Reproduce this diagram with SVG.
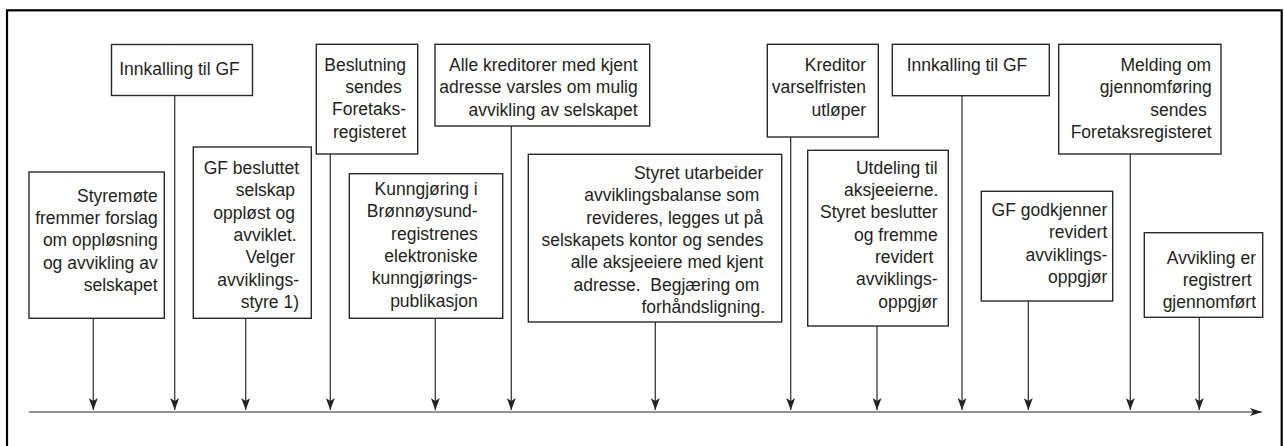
<svg xmlns="http://www.w3.org/2000/svg" width="1284" height="446" viewBox="0 0 1284 446">
<style>
.box{fill:#fff;stroke:#2a2a2a;stroke-width:1.4}
.t{font-family:"Liberation Sans",Arial,sans-serif;font-size:17.5px;fill:#231f20;text-anchor:end}
.c{text-anchor:middle}
.con{stroke:#3a3a3a;stroke-width:1.3;fill:none;marker-end:url(#ah)}
.axis{stroke:#6e6e6e;stroke-width:1.6;fill:none;marker-end:url(#ah2)}
</style>
<defs>
<marker id="ah" markerUnits="userSpaceOnUse" viewBox="0 0 12 9" refX="12" refY="4.5" markerWidth="12" markerHeight="9" orient="auto">
<path d="M0,0 L12,4.5 L0,9 L3,4.5 Z" fill="#222"/>
</marker>
<marker id="ah2" markerUnits="userSpaceOnUse" viewBox="0 0 12 8" refX="12" refY="4" markerWidth="12" markerHeight="8" orient="auto">
<path d="M0,0 L12,4 L0,8 L3,4 Z" fill="#222"/>
</marker>
</defs>
<rect x="7" y="10.3" width="1274.7" height="445" fill="#fff" stroke="#000" stroke-width="2.2"/>
<g id="connectors">
<line class="axis" x1="29" y1="412" x2="1262" y2="412"/>
<line class="con" x1="93.3" y1="318.3" x2="93.3" y2="410"/>
<line class="con" x1="174.7" y1="95.5" x2="174.7" y2="410"/>
<line class="con" x1="245.7" y1="318.3" x2="245.7" y2="410"/>
<line class="con" x1="330.3" y1="154" x2="330.3" y2="410"/>
<line class="con" x1="435.3" y1="318.3" x2="435.3" y2="410"/>
<line class="con" x1="511.3" y1="126" x2="511.3" y2="410"/>
<line class="con" x1="655.3" y1="322" x2="655.3" y2="410"/>
<line class="con" x1="790.7" y1="137" x2="790.7" y2="410"/>
<line class="con" x1="877" y1="326" x2="877" y2="410"/>
<line class="con" x1="962" y1="95.7" x2="962" y2="410"/>
<line class="con" x1="1028.3" y1="301" x2="1028.3" y2="410"/>
<line class="con" x1="1130.3" y1="154" x2="1130.3" y2="410"/>
<line class="con" x1="1199.3" y1="317.3" x2="1199.3" y2="410"/>
</g>
<g id="n1">
<rect class="box" x="29" y="172" width="135.3" height="146.3"/>
<text class="t" x="157.7" y="201.7">Styremøte</text>
<text class="t" x="157.7" y="224">fremmer forslag</text>
<text class="t" x="157.7" y="246.3">om oppløsning</text>
<text class="t" x="157.7" y="268.6">og avvikling av</text>
<text class="t" x="157.7" y="291">selskapet</text>
</g>
<g id="n2">
<rect class="box" x="111.5" y="44.5" width="141" height="51"/>
<text class="t c" x="179.5" y="74.5">Innkalling til GF</text>
</g>
<g id="n3">
<rect class="box" x="193.3" y="147" width="118" height="171.3"/>
<text class="t" x="299" y="174">GF besluttet</text>
<text class="t" x="295" y="196.3">selskap</text>
<text class="t" x="295" y="218.6">oppløst og</text>
<text class="t" x="296.7" y="241">avviklet.</text>
<text class="t" x="295" y="263.3">Velger</text>
<text class="t" x="299" y="285.6">avviklings-</text>
<text class="t" x="299" y="308">styre 1)</text>
</g>
<g id="n4">
<rect class="box" x="316.3" y="44.3" width="101.4" height="109.7"/>
<text class="t" x="406" y="70.7">Beslutning</text>
<text class="t" x="401.7" y="93">sendes</text>
<text class="t" x="406" y="115.3">Foretaks-</text>
<text class="t" x="406" y="137.6">registeret</text>
</g>
<g id="n5">
<rect class="box" x="349.3" y="173.7" width="153.4" height="144.6"/>
<text class="t" x="477.7" y="195">Kunngjøring i</text>
<text class="t" x="477.7" y="217.3">Brønnøysund-</text>
<text class="t" x="477.7" y="239.6">registrenes</text>
<text class="t" x="477.7" y="262">elektroniske</text>
<text class="t" x="477.7" y="284.3">kunngjørings-</text>
<text class="t" x="477.7" y="306.6">publikasjon</text>
</g>
<g id="n6">
<rect class="box" x="435" y="44.3" width="214.7" height="81.7"/>
<text class="t" x="637.7" y="71">Alle kreditorer med kjent</text>
<text class="t" x="637.7" y="93.3">adresse varsles om mulig</text>
<text class="t" x="637.7" y="115.6">avvikling av selskapet</text>
</g>
<g id="n7">
<rect class="box" x="528.3" y="154.3" width="253.4" height="167.7"/>
<text class="t" x="763.3" y="179">Styret utarbeider</text>
<text class="t" x="759.3" y="201.3">avviklingsbalanse som</text>
<text class="t" x="763.3" y="223.6">revideres, legges ut på</text>
<text class="t" x="763.3" y="246">selskapets kontor og sendes</text>
<text class="t" x="763.3" y="268.3">alle aksjeeiere med kjent</text>
<text class="t" x="759.3" y="290.6" xml:space="preserve">adresse.  Begjæring om</text>
<text class="t" x="765" y="313">forhåndsligning.</text>
</g>
<g id="n8">
<rect class="box" x="767.3" y="44.3" width="111" height="92.7"/>
<text class="t" x="866" y="71">Kreditor</text>
<text class="t" x="866" y="93.3">varselfristen</text>
<text class="t" x="866" y="115.6">utløper</text>
</g>
<g id="n9">
<rect class="box" x="807.7" y="150.3" width="140.6" height="175.7"/>
<text class="t" x="937.7" y="173.7">Utdeling til</text>
<text class="t" x="938.3" y="196">aksjeeierne.</text>
<text class="t" x="937.7" y="218.3">Styret beslutter</text>
<text class="t" x="937.7" y="240.6">og fremme</text>
<text class="t" x="933.3" y="263">revidert</text>
<text class="t" x="937.7" y="285.3">avviklings-</text>
<text class="t" x="937.7" y="307.6">oppgjør</text>
</g>
<g id="n10">
<rect class="box" x="892.3" y="44.3" width="157" height="51.4"/>
<text class="t c" x="967" y="71">Innkalling til GF</text>
</g>
<g id="n11">
<rect class="box" x="981.3" y="191.3" width="131.4" height="109.7"/>
<text class="t" x="1107.3" y="216">GF godkjenner</text>
<text class="t" x="1107.3" y="238.3">revidert</text>
<text class="t" x="1107.3" y="260.6">avviklings-</text>
<text class="t" x="1107.3" y="283">oppgjør</text>
</g>
<g id="n12">
<rect class="box" x="1058.7" y="44.3" width="162.3" height="109.7"/>
<text class="t" x="1211" y="71">Melding om</text>
<text class="t" x="1211.7" y="93.3">gjennomføring</text>
<text class="t" x="1206.7" y="115.6">sendes</text>
<text class="t" x="1211.7" y="138">Foretaksregisteret</text>
</g>
<g id="n13">
<rect class="box" x="1144.3" y="232.7" width="118.4" height="84.6"/>
<text class="t" x="1256" y="263.5">Avvikling er</text>
<text class="t" x="1251.7" y="285.5">registrert</text>
<text class="t" x="1256" y="307.5">gjennomført</text>
</g>
</svg>
